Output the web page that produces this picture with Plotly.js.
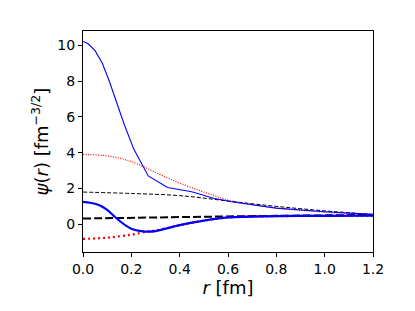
<!DOCTYPE html>
<html><head><meta charset="utf-8">
<script src="https://cdn.plot.ly/plotly-3.0.1.min.js"></script>
<style>html,body{margin:0;padding:0;background:#fff;}</style>
</head><body><div id="chart" style="width:415px;height:311px;"></div>
<script>
// thin blue solid
const rBlueThin = [0, 0.02, 0.05, 0.08, 0.11, 0.14, 0.17, 0.21, 0.27, 0.35, 0.45, 0.54, 0.62, 0.8, 1.0, 1.2];
const psiBlueThin = [10.22, 10.1, 9.7, 9.0, 7.95, 6.8, 5.6, 4.2, 2.7, 2.05, 1.82, 1.45, 1.24, 0.9, 0.7, 0.55];
// thin red dotted
const rRedThin = [0, 0.1, 0.2, 0.3, 0.4, 0.5, 0.6, 0.7, 0.8, 0.9, 1.0, 1.1, 1.2];
const psiRedThin = [3.9, 3.82, 3.5, 2.9, 2.3, 1.8, 1.35, 1.1, 0.9, 0.78, 0.68, 0.6, 0.53];
// thin black dashed
const rBlackThin = [0, 0.2, 0.4, 0.6, 0.8, 1.0, 1.2];
const psiBlackThin = [1.8, 1.72, 1.6, 1.3, 1.0, 0.75, 0.55];
// thick blue solid
const rBlueThick = [0, 0.03, 0.07, 0.1, 0.125, 0.15, 0.2, 0.25, 0.27, 0.3, 0.4, 0.5, 0.6, 0.8, 1.0, 1.2];
const psiBlueThick = [1.25, 1.2, 1.05, 0.8, 0.5, 0.2, -0.25, -0.4, -0.41, -0.38, -0.05, 0.2, 0.38, 0.45, 0.47, 0.48];
// thick red dotted
const rRedThick = [0, 0.1, 0.2, 0.27, 0.3, 0.4, 0.5, 0.6, 0.8, 1.0, 1.2];
const psiRedThick = [-0.82, -0.75, -0.58, -0.4, -0.35, -0.05, 0.2, 0.38, 0.45, 0.47, 0.48];
// thick black dashed
const rBlackThick = [0, 0.4, 0.8, 1.2];
const psiBlackThick = [0.32, 0.4, 0.47, 0.52];

const xTicks = [0, 0.2, 0.4, 0.6, 0.8, 1.0, 1.2];
const xTickText = ["0.0", "0.2", "0.4", "0.6", "0.8", "1.0", "1.2"];
const yTicks = [0, 2, 4, 6, 8, 10];

const traces = [
  {x: rBlackThin, y: psiBlackThin, mode: 'lines', line: {color: '#000000', width: 1, dash: '4px,2px', shape: 'spline'}},
  {x: rRedThin, y: psiRedThin, mode: 'lines', line: {color: '#ff0000', width: 1.2, dash: '1px,1.5px', shape: 'spline'}},
  {x: rBlueThin, y: psiBlueThin, mode: 'lines', line: {color: '#0000ff', width: 1.1}},
  {x: rBlackThick, y: psiBlackThick, mode: 'lines', line: {color: '#000000', width: 2, dash: '8px,3px', shape: 'spline'}},
  {x: rRedThick, y: psiRedThick, mode: 'lines', line: {color: '#ff0000', width: 2.2, dash: '2px,3px', shape: 'spline'}},
  {x: rBlueThick, y: psiBlueThick, mode: 'lines', line: {color: '#0000ff', width: 2.2, shape: 'spline'}}
];

const axisCommon = {
  showline: true, mirror: true, linecolor: '#000', linewidth: 1,
  ticks: 'outside', ticklen: 4, tickwidth: 1, tickcolor: '#000',
  showgrid: false, zeroline: false,
  tickfont: {family: 'DejaVu Sans', size: 14, color: '#000'}
};

const layout = {
  width: 415, height: 311,
  margin: {l: 83, r: 42, t: 31, b: 59},
  paper_bgcolor: '#fff', plot_bgcolor: '#fff',
  showlegend: false,
  xaxis: Object.assign({}, axisCommon, {
    range: [0, 1.2], tickvals: xTicks, ticktext: xTickText,
    title: {text: '<i>r</i> [fm]', font: {family: 'DejaVu Sans', size: 18, color: '#000'}, standoff: 3}
  }),
  yaxis: Object.assign({}, axisCommon, {
    range: [-1.55, 10.8], tickvals: yTicks,
    title: {text: '<i>ψ</i>(<i>r</i>) [fm<sup>−3/2</sup>]', font: {family: 'DejaVu Sans', size: 18, color: '#000'}, standoff: 4}
  })
};

Plotly.newPlot('chart', traces, layout, {displayModeBar: false, staticPlot: true});
</script></body></html>
